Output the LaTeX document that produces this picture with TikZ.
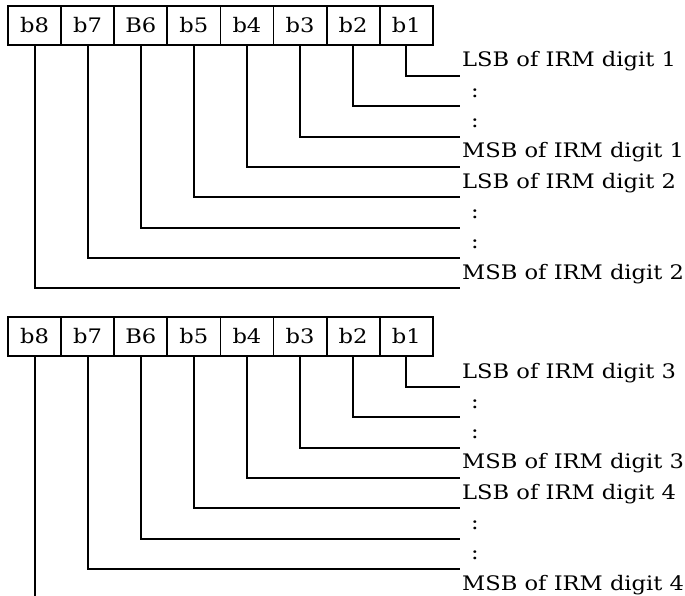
\documentclass[tikz,border=0pt]{standalone}
\usepackage{fontspec}
\setmainfont{DejaVu Serif}[FakeStretch=1.13]
\begin{document}
\begin{tikzpicture}[x=1pt,y=-1pt,
  cell/.style={draw,line width=1.8pt,minimum width=53.1pt,minimum height=39pt,inner sep=0pt,font=\fontsize{20}{22}\selectfont},
  lbl/.style={anchor=base west,inner sep=0pt,font=\fontsize{20}{22}\selectfont},
  wire/.style={line width=2pt}]
\useasboundingbox (0,0) rectangle (685,596);
\clip (0,0) rectangle (685,596);
\foreach \blk/\yo/\da/\db in {1/0/1/2, 2/311/3/4}{
  \foreach \t [count=\i] in {b8,b7,B6,b5,b4,b3,b2,b1}{
    \pgfmathsetmacro{\cx}{34.55+53.1*(\i-1)}
    \pgfmathtruncatemacro{\k}{9-\i}
    \node[cell] (c\blk-\k) at (\cx,25.5+\yo) {\t};
  }
  \foreach \k/\txt/\dx in {1/LSB of IRM digit \da/462, 2/:/471, 3/:/471, 4/MSB of IRM digit \da/462,
                           5/LSB of IRM digit \db/462, 6/:/471, 7/:/471, 8/MSB of IRM digit \db/462}{
    \pgfmathsetmacro{\ly}{76+30.3*(\k-1)+\yo}
    \coordinate (e\blk-\k) at (460,\ly);
    \node[lbl] (l\blk-\k) at (\dx,\ly-9) {\txt};
    \draw[wire] (c\blk-\k.south) |- (e\blk-\k);
  }
}
\end{tikzpicture}
\end{document}
